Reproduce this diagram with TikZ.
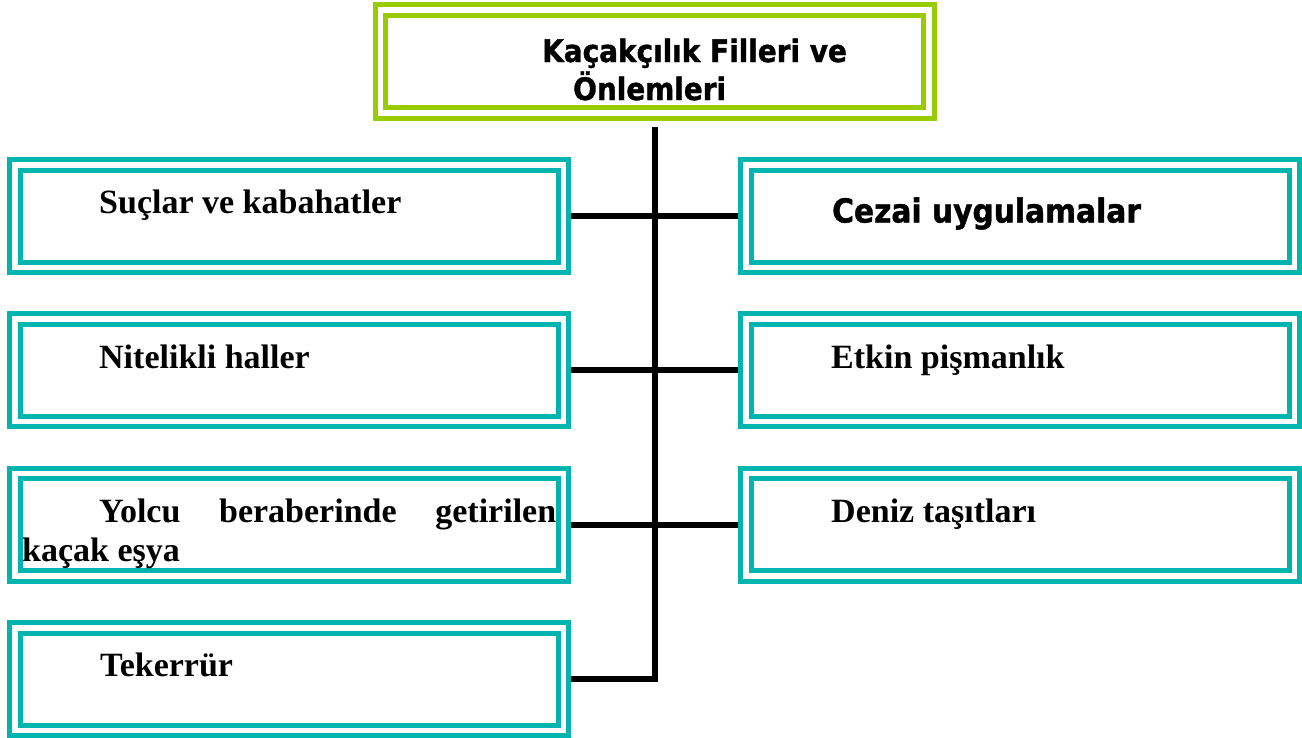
\documentclass[tikz,border=0pt]{standalone}
\usepackage{fontspec}
\setmainfont{Liberation Serif}
\newfontfamily\tahoma{DejaVu Sans Bold}[FakeStretch=0.9,FakeBold=1.2]
\usetikzlibrary{calc,backgrounds}
\definecolor{tealc}{RGB}{0,181,176}
\definecolor{limec}{RGB}{153,204,0}
\tikzset{
  dbox/.style={rectangle, draw=#1, double=white, double distance=5.5pt, line width=5pt,
    fill=white, minimum width=548.5pt, minimum height=102.5pt, inner sep=0pt},
  conn/.style={line width=6pt, black},
  serlbl/.style={anchor=base west, inner sep=0pt, font=\fontsize{34}{39}\selectfont\bfseries},
  sanlbl/.style={anchor=base west, inner sep=0pt, font=\fontsize{33}{38}\selectfont\tahoma},
}
\begin{document}
\begin{tikzpicture}[x=1pt,y=-1pt]
\useasboundingbox (0,0) rectangle (1302,737);
% boxes
\node[dbox=limec, minimum height=103pt] (top) at (654.6,61.5) {};
\node[dbox=tealc] (b1) at (289,216) {};
\node[dbox=tealc] (b2) at (289,370.3) {};
\node[dbox=tealc] (b3) at (289,524.7) {};
\node[dbox=tealc] (b4) at (289,679) {};
\node[dbox=tealc] (r1) at (1020,216) {};
\node[dbox=tealc] (r2) at (1020,370.3) {};
\node[dbox=tealc] (r3) at (1020,524.7) {};
% connectors
\begin{pgfonlayer}{background}
\draw[conn] ($(top.south)+(0,11)$) |- (b4.east);
\draw[conn] (b1.east) -- (r1.west);
\draw[conn] (b2.east) -- (r2.west);
\draw[conn] (b3.east) -- (r3.west);
\end{pgfonlayer}
% texts
\node[sanlbl, font=\fontsize{31}{38}\selectfont\tahoma] (title) at (542,62)
  {\parbox[t]{330pt}{Kaçakçılık Filleri ve\\\hspace*{31pt}Önlemleri}};
\node[serlbl] (t1) at (99,213.5) {Suçlar ve kabahatler};
\node[serlbl] (t2) at (99,368) {Nitelikli haller};
\node[serlbl] (t3) at (22,522.5)
  {\parbox[t]{534pt}{\hspace*{77pt}\makebox[457pt][s]{Yolcu beraberinde getirilen}\\kaçak eşya}};
\node[serlbl] (t4) at (100,676) {Tekerrür};
\node[sanlbl] (t5) at (832,222.5) {Cezai uygulamalar};
\node[serlbl] (t6) at (831,368) {Etkin pişmanlık};
\node[serlbl] (t7) at (831,522.5) {Deniz taşıtları};
\end{tikzpicture}
\end{document}
